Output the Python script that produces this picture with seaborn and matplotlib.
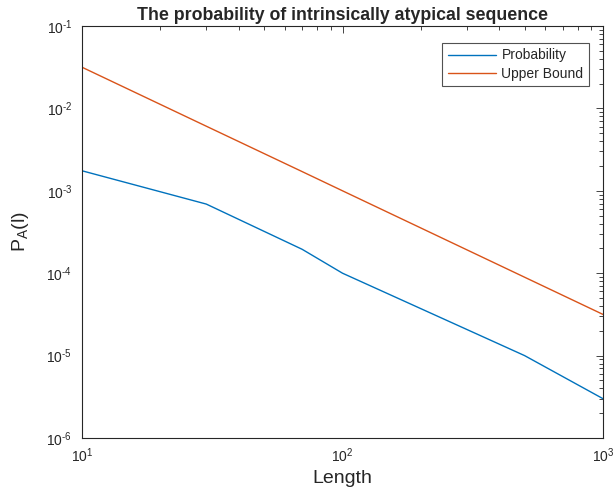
import numpy as np
import pandas as pd
import matplotlib
matplotlib.use("Agg")
import matplotlib.pyplot as plt
import seaborn as sns
from matplotlib.ticker import LogLocator, NullFormatter, FuncFormatter

# data
length = [10, 30, 70, 100, 500, 1000]
probability = [1.75e-3, 6.9e-4, 1.95e-4, 1.0e-4, 1.0e-5, 3.0e-6]
upper_bound = [3.16e-2, 6.08e-3, 1.71e-3, 1.0e-3, 8.94e-5, 3.16e-5]
series_names = ["Probability", "Upper Bound"]

df = pd.concat([
    pd.DataFrame({"Length": length, "P": probability, "series": series_names[0]}),
    pd.DataFrame({"Length": length, "P": upper_bound, "series": series_names[1]}),
])

sns.set_style("white")
plt.rcParams["font.family"] = ["Liberation Sans", "DejaVu Sans"]
plt.rcParams["mathtext.fontset"] = "custom"
plt.rcParams["mathtext.rm"] = "Liberation Sans"
plt.rcParams["mathtext.it"] = "Liberation Sans"
plt.rcParams["mathtext.bf"] = "Liberation Sans:bold"

fig = plt.figure(figsize=(6.15, 4.97), dpi=100)
ax = fig.add_axes([82 / 615, 1 - 438 / 497, 521 / 615, 412 / 497])

sns.lineplot(data=df, x="Length", y="P", hue="series",
             palette=["#0072BD", "#D95319"], linewidth=1.0, ax=ax)

ax.set_xscale("log")
ax.set_yscale("log")
ax.set_xlim(10, 1000)
ax.set_ylim(1e-6, 1e-1)


def pow_label(v, pos):
    e = int(round(np.log10(v)))
    return r"$\mathregular{10^{\text{%d}}}$" % e


ax.xaxis.set_major_locator(LogLocator(base=10, numticks=20))
ax.yaxis.set_major_locator(LogLocator(base=10, numticks=20))
ax.xaxis.set_minor_locator(LogLocator(base=10, subs=np.arange(2, 10), numticks=20))
ax.yaxis.set_minor_locator(LogLocator(base=10, subs=np.arange(2, 10), numticks=20))
ax.xaxis.set_major_formatter(FuncFormatter(pow_label))
ax.yaxis.set_major_formatter(FuncFormatter(pow_label))
ax.xaxis.set_minor_formatter(NullFormatter())
ax.yaxis.set_minor_formatter(NullFormatter())

ax.tick_params(which="both", direction="in", top=True, right=True,
               colors="#262626", labelsize=10, labelcolor="#262626")
ax.tick_params(which="major", length=5, width=0.6)
ax.tick_params(which="minor", length=3, width=0.6)
ax.tick_params(axis="x", which="major", pad=6)
ax.tick_params(axis="y", which="major", pad=7)
for s in ax.spines.values():
    s.set_color("#262626")
    s.set_linewidth(0.8)

ax.set_xlabel("Length", fontsize=14, color="#262626")
ax.set_ylabel(r"P$_\mathregular{A}$(l)", fontsize=14, color="#262626")
ax.xaxis.set_label_coords(0.5, -0.078)
ax.yaxis.set_label_coords(-0.098, 0.5)
ax.set_title("The probability of intrinsically atypical sequence",
             fontsize=12.8, fontweight="bold", pad=4)

leg = ax.legend(loc="upper right", bbox_to_anchor=(0.973, 0.959),
                fontsize=10, handlelength=3.5, frameon=True, fancybox=False,
                borderaxespad=0, borderpad=0.4, labelspacing=0.3,
                handletextpad=0.36)
leg.get_frame().set_edgecolor("#262626")
leg.get_frame().set_linewidth(0.8)

fig.savefig("out.png", dpi=100)
